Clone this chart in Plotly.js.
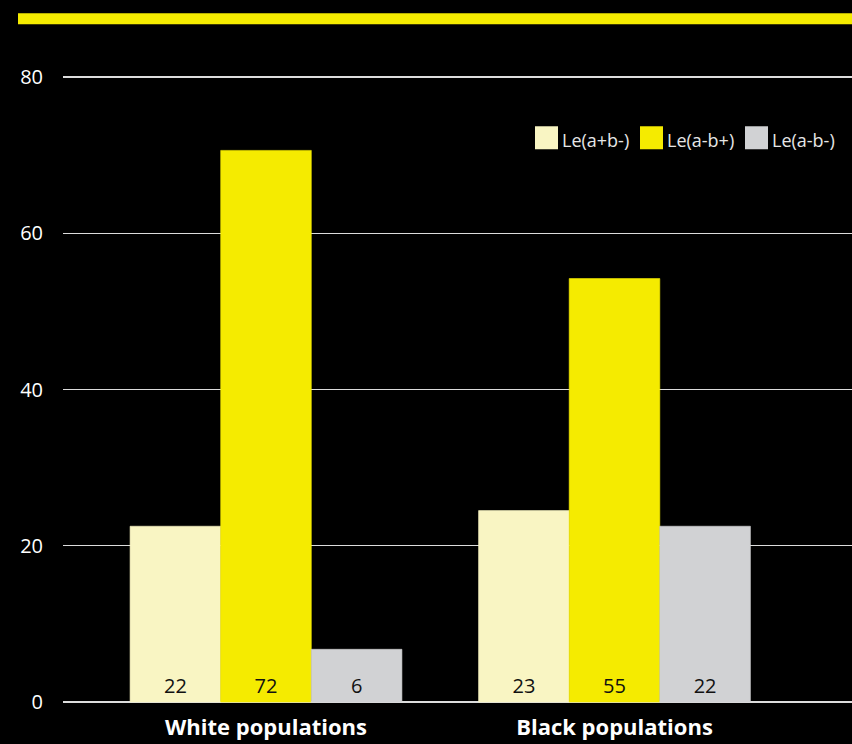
<!DOCTYPE html>
<html>
<head>
<meta charset="utf-8">
<script src="https://cdn.plot.ly/plotly-3.0.1.min.js"></script>
<style>html,body{margin:0;padding:0;background:#000;}#chart{width:852px;height:744px;}</style>
</head>
<body>
<div id="chart"></div>
<script>
const categories = ["White populations", "Black populations"];
const seriesNames = ["Le(a+b-)", "Le(a-b+)", "Le(a-b-)"];
const seriesColors = ["#f9f5c3", "#f5eb00", "#d1d2d4"];
// bar heights as drawn
const valuesAplusBminus = [22.5, 24.5];
const valuesAminusBplus = [70.6, 54.2];
const valuesAminusBminus = [6.75, 22.5];
// printed labels
const labelsAplusBminus = ["22", "23"];
const labelsAminusBplus = ["72", "55"];
const labelsAminusBminus = ["6", "22"];
const yTickVals = [0, 20, 40, 60, 80];

const values = [valuesAplusBminus, valuesAminusBplus, valuesAminusBminus];
const labels = [labelsAplusBminus, labelsAminusBplus, labelsAminusBminus];

const font = '"Open Sans", "Noto Sans", sans-serif';

const traces = seriesNames.map((name, i) => ({
  type: 'bar',
  name: name,
  x: categories,
  y: values[i],
  text: labels[i],
  texttemplate: '%{text}',
  textposition: 'inside',
  insidetextanchor: 'start',
  textangle: 0,
  constraintext: 'none',
  insidetextfont: {family: font, size: 20, color: '#111'},
  marker: {color: seriesColors[i], line: {width: 0.6, color: seriesColors[i]}},
  hoverinfo: 'skip',
  showlegend: false
}));

// custom legend (paper coordinates)
const pad = 0.25; // range padding so that 0 and 80 grid lines are drawn
const plotL = 63, plotW = 789;
const pxPerUnit = 625 / 80;
const plotB = 701.7 + pad * pxPerUnit, plotT = 76.7 - pad * pxPerUnit;
const plotH = plotB - plotT;
const legendBoxX = [535, 640, 745];
const boxTop = 126, boxSize = 23;
const shapes = [{
  type: 'rect', xref: 'paper', yref: 'paper',
  x0: (18 - plotL) / plotW, x1: 1.0,
  y0: (plotB - 24) / plotH, y1: (plotB - 13) / plotH,
  fillcolor: '#f5eb00', line: {width: 0}
}];
const annotations = [];
seriesNames.forEach((name, i) => {
  const x0 = legendBoxX[i];
  shapes.push({
    type: 'rect', xref: 'paper', yref: 'paper',
    x0: (x0 - plotL) / plotW, x1: (x0 + boxSize - plotL) / plotW,
    y0: (plotB - boxTop - boxSize) / plotH, y1: (plotB - boxTop) / plotH,
    fillcolor: seriesColors[i], line: {width: 0}
  });
  annotations.push({
    xref: 'paper', yref: 'paper',
    x: (x0 + boxSize + 2 - plotL) / plotW,
    y: (plotB - 140) / plotH,
    xanchor: 'left', yanchor: 'middle',
    text: name, showarrow: false,
    font: {family: font, size: 18, color: '#e6e6e6'}
  });
});

const layout = {
  width: 852, height: 744,
  paper_bgcolor: '#000', plot_bgcolor: '#000',
  margin: {l: plotL, r: 0, t: plotT, b: 744 - plotB},
  barmode: 'group', bargap: 0.22, bargroupgap: 0,
  showlegend: false,
  font: {family: font, color: '#fff'},
  xaxis: {
    type: 'category',
    range: [-0.5825, 1.6815],
    showgrid: false, zeroline: false, showline: false,
    ticks: '', ticklabelstandoff: 8,
    tickfont: {family: font, size: 22, color: '#fff', weight: 'bold'},
    fixedrange: true
  },
  yaxis: {
    range: [-pad, 80 + pad],
    tickvals: yTickVals,
    ticktext: yTickVals.map(String),
    showgrid: true, gridcolor: '#dcdcdc', gridwidth: 1.2,
    zeroline: false, showline: false,
    ticks: '', ticklabelstandoff: 19,
    tickfont: {family: font, size: 20, color: '#fff'},
    fixedrange: true
  },
  shapes: shapes,
  annotations: annotations
};

Plotly.newPlot('chart', traces, layout, {displayModeBar: false, staticPlot: true});
</script>
</body>
</html>
